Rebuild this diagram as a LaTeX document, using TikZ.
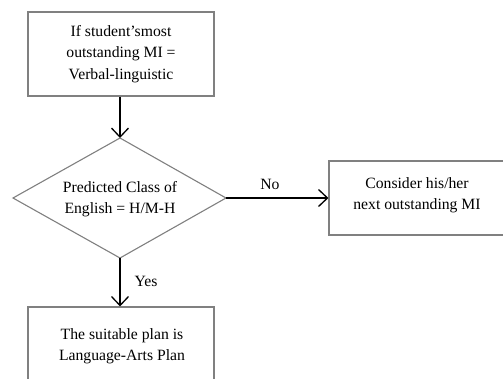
\documentclass[tikz,border=0pt]{standalone}
\usepackage{fontspec}
\setmainfont{Liberation Serif}
\usetikzlibrary{arrows.meta,shapes.geometric}
\begin{document}
\begin{tikzpicture}[x=1pt,y=-1pt,
  box/.style={draw=black!50,line width=1.1pt,fill=white,align=center,inner sep=0pt,
    font=\fontsize{15.7}{21.5}\selectfont},
  txt/.style={align=center,inner sep=0pt,font=\fontsize{15.7}{21.5}\selectfont},
  arr/.style={draw=black,line width=1.4pt,-{Straight Barb[length=9pt,width=17pt,line width=1.3pt]}},
  lbl/.style={font=\fontsize{15.7}{19}\selectfont,inner sep=0pt}]
\clip (0,0) rectangle (503,378);
\node[box,minimum width=186pt,minimum height=84pt] (start) at (121,54)
  {If student’smost\\outstanding MI =\\Verbal-linguistic};
\draw[draw=black!50,line width=1.1pt,fill=white] (13,198) coordinate (dl) -- (120,138) coordinate (dt)
  -- (226,198) coordinate (dr) -- (120,258) coordinate (db) -- cycle;
\node[txt] (dec) at (120,199) {Predicted Class of\\English = H/M-H};
\node[box,minimum width=200pt,minimum height=74pt] (no) at (429,198) {};
\node[txt] (notxt) at (417,195) {Consider his/her\\next outstanding MI};
\node[box,minimum width=186pt,minimum height=84pt] (yes) at (121,349) {};
\node[txt] (yestxt) at (122,346) {The suitable plan is\\Language-Arts Plan};
\draw[arr] (start.south -| dt) -- (dt);
\draw[arr] (dr) -- (no.west);
\draw[arr] (db) -- (yes.north -| db);
\node[lbl] (nol) at (270,184) {No};
\node[lbl] (yesl) at (146,281) {Yes};
\end{tikzpicture}
\end{document}
